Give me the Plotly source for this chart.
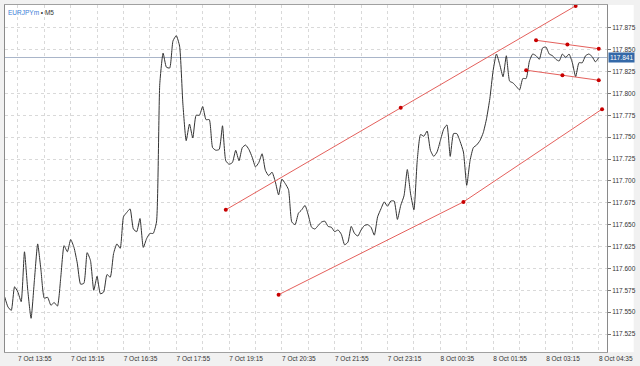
import pandas as pd
import plotly.graph_objects as go

# ---- data -------------------------------------------------------------
bar_start = "2019-10-07 13:35"
close = [
    117.5675, 117.556, 117.552, 117.579,
    117.573, 117.562, 117.619, 117.575, 117.543, 117.586, 117.628, 117.598,
    117.566, 117.567, 117.558, 117.561, 117.557, 117.590, 117.626, 117.619,
    117.633, 117.624, 117.606, 117.582, 117.583, 117.618, 117.609, 117.575,
    117.591, 117.571, 117.573, 117.593, 117.590, 117.617, 117.628, 117.623,
    117.659, 117.664, 117.668, 117.645, 117.642, 117.657, 117.624, 117.634,
    117.640, 117.640, 117.653, 117.811, 117.846, 117.830, 117.829, 117.860,
    117.866, 117.854, 117.788, 117.746, 117.765, 117.749, 117.775, 117.775,
    117.785, 117.770, 117.770, 117.738, 117.735, 117.736, 117.763, 117.723,
    117.719, 117.721, 117.735, 117.723, 117.738, 117.741, 117.736, 117.727,
    117.716, 117.721, 117.731, 117.712, 117.706, 117.710, 117.699, 117.684,
    117.702, 117.697, 117.690, 117.653, 117.650, 117.663, 117.667, 117.672,
    117.661, 117.647, 117.645, 117.649, 117.653, 117.654, 117.648, 117.647,
    117.642, 117.644, 117.639, 117.627, 117.630, 117.648, 117.640, 117.637,
    117.644, 117.649, 117.650, 117.647, 117.638, 117.659, 117.668, 117.676,
    117.671, 117.677, 117.677, 117.656, 117.672, 117.683, 117.713, 117.685,
    117.667, 117.723, 117.753, 117.751, 117.757, 117.735, 117.728, 117.733,
    117.746, 117.759, 117.764, 117.728, 117.754, 117.754, 117.745, 117.733,
    117.695, 117.723, 117.738, 117.741, 117.746, 117.755, 117.771, 117.794,
    117.826, 117.845, 117.833, 117.819, 117.843, 117.814, 117.812, 117.808,
    117.804, 117.817, 117.817, 117.837, 117.845, 117.843, 117.839, 117.852,
    117.853, 117.845, 117.843, 117.839, 117.837, 117.845, 117.841, 117.845,
    117.835, 117.819, 117.835, 117.835, 117.843, 117.845, 117.842, 117.836,
    117.841,
]
times = pd.date_range(bar_start, periods=len(close), freq="5min")

current_price = 117.841

price_ticks = [117.525, 117.550, 117.575, 117.600, 117.625, 117.650, 117.675,
               117.700, 117.725, 117.750, 117.775, 117.800, 117.825, 117.850,
               117.875]

tick_times = [
    "2019-10-07 13:55:00", "2019-10-07 15:15:00", "2019-10-07 16:35:00", "2019-10-07 17:55:00",
    "2019-10-07 19:15:00", "2019-10-07 20:35:00", "2019-10-07 21:55:00", "2019-10-07 23:15:00",
    "2019-10-08 00:35:00", "2019-10-08 01:55:00", "2019-10-08 03:15:00", "2019-10-08 04:35:00",
]
tick_labels = [
    "7 Oct 13:55", "7 Oct 15:15", "7 Oct 16:35", "7 Oct 17:55", "7 Oct 19:15",
    "7 Oct 20:35", "7 Oct 21:55", "7 Oct 23:15", "8 Oct 00:35", "8 Oct 01:55",
    "8 Oct 03:15", "8 Oct 04:35",
]
grid_times = list(pd.date_range("2019-10-07 13:55", "2019-10-08 04:35", freq="40min"))

# trend lines: start, middle, end anchors
chan_up_t = ["2019-10-07 19:10:00", "2019-10-07 23:35:00", "2019-10-08 04:00:00"]
chan_up_p = [117.667, 117.7835, 117.900]
chan_lo_t = ["2019-10-07 20:30:00", "2019-10-08 01:10:00", "2019-10-08 04:40:00"]
chan_lo_p = [117.570, 117.676, 117.782]
flag_up_t = ["2019-10-08 03:00:00", "2019-10-08 03:47:30", "2019-10-08 04:35:00"]
flag_up_p = [117.8607, 117.8558, 117.851]
flag_lo_t = ["2019-10-08 02:45:00", "2019-10-08 03:40:00", "2019-10-08 04:35:00"]
flag_lo_p = [117.8265, 117.8207, 117.815]

x_range = ["2019-10-07 13:35:30", "2019-10-08 04:47:30"]
y_range = [117.5045, 117.901]

# ---- figure -----------------------------------------------------------
FONT = "Liberation Sans, Arial, sans-serif"
fig = go.Figure()

fig.add_trace(go.Scatter(
    x=times, y=close, mode="lines",
    line=dict(color="#333333", width=1, shape="spline", smoothing=0.5),
    hoverinfo="skip", showlegend=False,
))

for tt, pp in [(chan_up_t, chan_up_p), (chan_lo_t, chan_lo_p),
               (flag_up_t, flag_up_p), (flag_lo_t, flag_lo_p)]:
    fig.add_trace(go.Scatter(
        x=pd.to_datetime(tt, format="ISO8601"), y=pp, mode="lines+markers",
        line=dict(color="#e4605c", width=1),
        marker=dict(color="#c80000", size=4),
        hoverinfo="skip", showlegend=False, cliponaxis=False,
    ))

fig.add_shape(type="line", xref="paper", x0=0, x1=1, yref="y",
              y0=current_price, y1=current_price,
              line=dict(color="#a9b5c9", width=1), layer="below")
# white area behind the price scale
fig.add_shape(type="rect", xref="paper", x0=1, x1=1 + 27 / 608, yref="paper",
              y0=0, y1=1, fillcolor="white", line_width=0, layer="below")

fig.add_annotation(
    xref="paper", yref="paper", x=0, y=1, xanchor="left", yanchor="top",
    xshift=1, yshift=-2, showarrow=False,
    text="<span style='color:#3a80d8'>EURJPYm</span> • M5",
    font=dict(family=FONT, size=6.5, color="#333333"),
)
fig.add_annotation(
    xref="paper", yref="y", x=1, y=current_price, xanchor="left", yanchor="middle",
    xshift=1, showarrow=False, text=f"{current_price:.3f}",
    bgcolor="#3469a8", borderpad=1,
    font=dict(family=FONT, size=6.5, color="white"),
)

fig.update_layout(
    width=640, height=366,
    margin=dict(l=5, r=27, t=4, b=14),
    paper_bgcolor="#f1f1f1", plot_bgcolor="white",
    font=dict(family=FONT, size=6.5, color="#333333"),
    showlegend=False,
)
fig.update_xaxes(
    type="date", range=x_range,
    tickmode="array", tickvals=pd.to_datetime(tick_times, format="ISO8601"), ticktext=tick_labels,
    ticklabelshift=17, ticks="", showgrid=False,
    minor=dict(tickmode="array", tickvals=grid_times, showgrid=True,
               gridcolor="#d9d9d9", griddash="dot", gridwidth=1, ticks=""),
    showline=True, linecolor="#a0a0a0", mirror=True, zeroline=False,
    tickfont=dict(size=6.5, color="#333333"),
)
fig.update_yaxes(
    side="right", range=y_range, tickmode="array", tickvals=price_ticks,
    tickformat=".3f",
    ticks="outside", ticklen=3, tickcolor="#777777",
    showgrid=True, gridcolor="#d9d9d9", griddash="dot", gridwidth=1,
    showline=True, linecolor="#8a8a8a", mirror=True, zeroline=False,
    tickfont=dict(size=6.5, color="#333333"),
)

fig.write_html("out.html")
